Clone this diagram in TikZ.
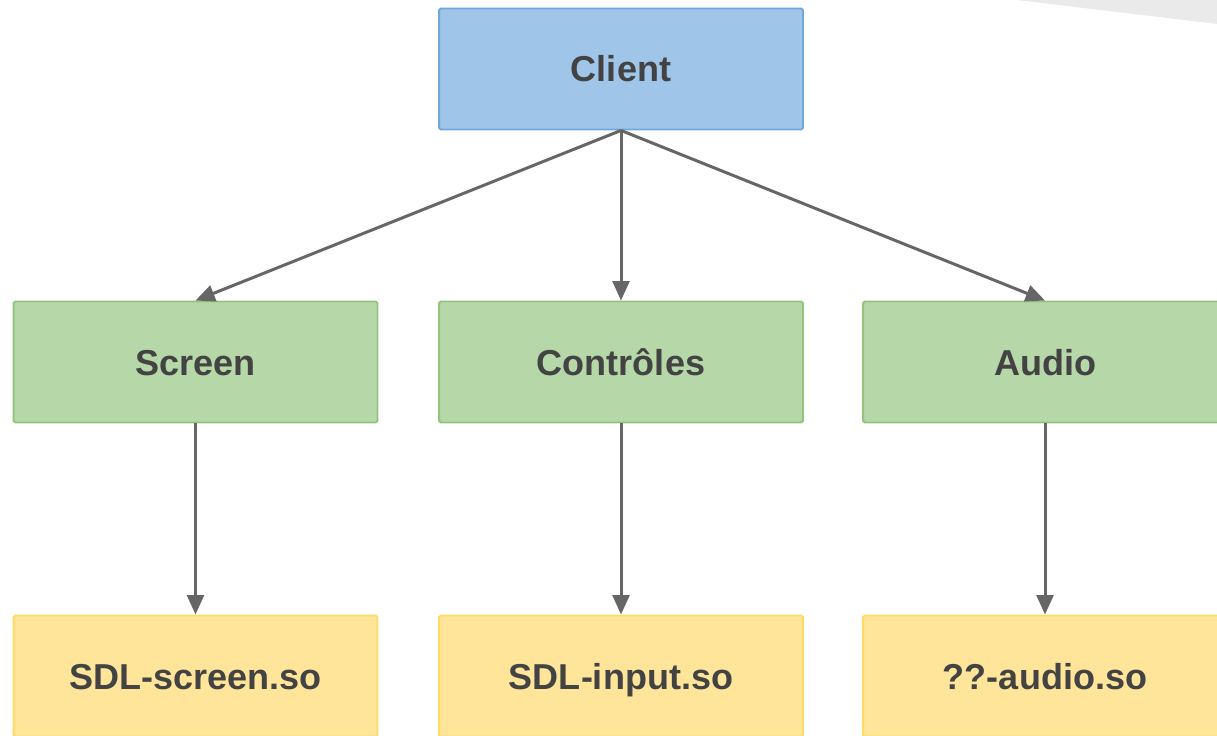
\documentclass[tikz,border=0pt]{standalone}
\usepackage{fontspec}
\setmainfont{Liberation Sans}
\usetikzlibrary{arrows.meta}
\definecolor{blfill}{HTML}{9FC5E8}
\definecolor{bldraw}{HTML}{6FA8DC}
\definecolor{grfill}{HTML}{B6D7A8}
\definecolor{grdraw}{HTML}{93C47D}
\definecolor{yefill}{HTML}{FFE599}
\definecolor{yedraw}{HTML}{FFD966}
\definecolor{txt}{HTML}{434343}
\definecolor{arr}{HTML}{666666}
\definecolor{cornergrey}{HTML}{EAEAEA}
\begin{document}
\begin{tikzpicture}[x=0.02cm,y=-0.02cm,
  box/.style={draw,line width=1.1pt,rounded corners=1pt,minimum width=7.28cm,minimum height=2.42cm,
    text height=14.8pt,text depth=0pt,
    font=\bfseries\fontsize{20.5}{24}\selectfont,text=txt},
  link/.style={draw=arr,line width=1.7pt,-{Triangle[width=9.5pt,length=11pt]}}]
\def\ytop{69}
\def\ymid{362}
\def\ylib{676}
\useasboundingbox (0,0) rectangle (1217,736);
\clip (0,0) rectangle (1217,736);
%grey corner
\fill[cornergrey] (1017,0) -- (1217,24) -- (1217,0) -- cycle;
\node[box,fill=blfill,draw=bldraw] (client) at (621,\ytop) {Client};
\foreach\n/\t/\l/\x in {scr/Screen/SDL-screen.so/195.5,ctl/Contrôles/SDL-input.so/621,aud/Audio/??-audio.so/1045} {
  \node[box,fill=grfill,draw=grdraw] (mid-\n) at (\x,\ymid) {\t};
  \node[box,fill=yefill,draw=yedraw] (lib-\n) at (\x,\ylib) {\l};
}
%links
\foreach\n in {scr,ctl,aud} {
  \draw[link] (client.south) -- (mid-\n.north);
  \draw[link] (mid-\n) -- (lib-\n);
}
\end{tikzpicture}
\end{document}
